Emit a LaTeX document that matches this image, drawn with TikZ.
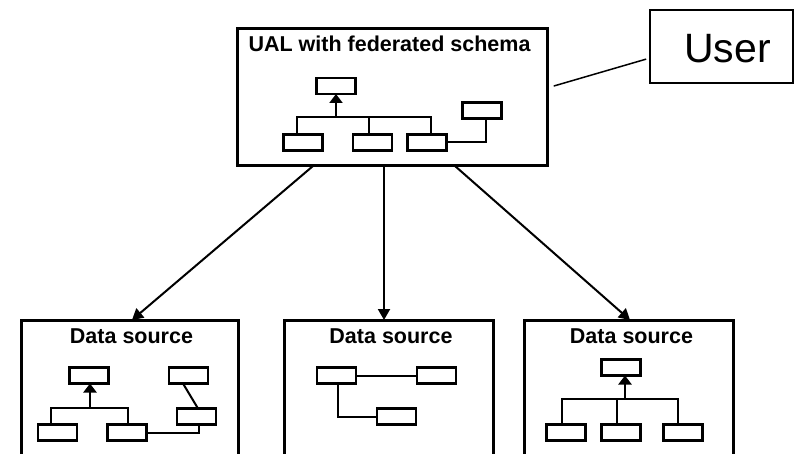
\documentclass[tikz,border=0pt]{standalone}
\usepackage{fontspec}
\setmainfont{Liberation Sans}
\usetikzlibrary{arrows.meta}
\begin{document}
\begin{tikzpicture}[x=1pt,y=1pt,
 bigbox/.style={draw, line width=3pt, inner sep=0pt, outer sep=0pt},
 sbox/.style={draw, line width=2.6pt, minimum width=39pt, minimum height=16pt, inner sep=0pt, outer sep=0pt},
 link/.style={line width=2pt},
 uparrow/.style={line width=2.6pt, -{Triangle[length=9pt,width=13pt]}},
 mainarrow/.style={line width=2pt, -{Triangle[length=11pt,width=12pt]}},
 title/.style={font=\bfseries\fontsize{21.5}{22}\selectfont, anchor=base, inner sep=0pt},
]
\clip (0,0) rectangle (794,-454);
% outer boxes
\node[bigbox, minimum width=310pt, minimum height=137pt] (top) at (392,-97.5) {};
\node[draw, line width=1.5pt, minimum width=143pt, minimum height=73pt, inner sep=0pt, outer sep=0pt] (user) at (721.5,-46.5) {};
\node[bigbox, minimum width=217pt, minimum height=150pt] (dsl) at (129.5,-395) {};
\node[bigbox, minimum width=209pt, minimum height=150pt] (dsm) at (388.5,-395) {};
\node[bigbox, minimum width=209pt, minimum height=150pt] (dsr) at (628.5,-395) {};
% texts
\node[title] (ttop) at (389.5,-52) {UAL with federated schema};
\node[font=\fontsize{41}{42}\selectfont, anchor=base, inner sep=0pt] (tuser) at (727.5,-63) {User};
\node[title] (tdsl) at (131.5,-343) {Data source};
\node[title] (tdsm) at (391,-343) {Data source};
\node[title] (tdsr) at (631.5,-343) {Data source};
% connectors between big boxes
\draw[line width=1.5pt, shorten <=7pt, shorten >=4pt] ([yshift=9.5pt]top.east) -- ([yshift=-11.5pt]user.west);
\draw[mainarrow] ([xshift=-79pt]top.south) -- ([xshift=2.5pt]dsl.north);
\draw[mainarrow] ([xshift=-8pt]top.south) -- ([xshift=-4.5pt]dsm.north);
\draw[mainarrow] ([xshift=63pt]top.south) -- ([xshift=1.5pt]dsr.north);
% top schema
\node[sbox] (T1) at (336,-86) {};
\node[sbox] (Ta) at (303,-142.5) {};
\node[sbox] (Tb) at (372.5,-142.5) {};
\node[sbox] (Tc) at (427,-142.5) {};
\node[sbox] (Td) at (482,-110.5) {};
\coordinate (tbus) at (336,-117);
\draw[link] ([xshift=-6pt]Ta.north) |- ([xshift=4pt]Tc.north |- tbus) -- ([xshift=4pt]Tc.north);
\draw[link] ([xshift=-3.5pt]Tb.north) -- ([xshift=-3.5pt]Tb.north |- tbus);
\draw[uparrow] (tbus) -- (T1.south);
\draw[link] (Tc.east) -| ([xshift=4pt]Td.south);
% left schema
\node[sbox] (L1) at (89,-375.5) {};
\node[sbox] (L2) at (57.5,-432.5) {};
\node[sbox] (L3) at (127,-432.5) {};
\node[sbox] (L4) at (188.5,-375.5) {};
\node[sbox] (L5) at (196.5,-416.5) {};
\coordinate (lbus) at (90,-408);
\draw[link] ([xshift=-6.5pt]L2.north) |- ([xshift=1pt]L3.north |- lbus) -- ([xshift=1pt]L3.north);
\draw[uparrow] (lbus) -- ([xshift=1pt]L1.south);
\draw[link] ([xshift=-5.5pt]L4.south) -- ([xshift=1.5pt]L5.north);
\draw[link] (L3.east) -| ([xshift=2.5pt]L5.south);
% middle schema
\node[sbox] (M1) at (336.5,-375.5) {};
\node[sbox] (M2) at (436.5,-375.5) {};
\node[sbox] (M3) at (396.5,-416.5) {};
\draw[link] (M1.east) -- (M2.west);
\draw[link] ([xshift=1.5pt]M1.south) |- (M3.west);
% right schema
\node[sbox] (R1) at (621,-367.5) {};
\node[sbox] (R2) at (566,-432.5) {};
\node[sbox] (R3) at (621,-432.5) {};
\node[sbox] (R4) at (683,-432.5) {};
\coordinate (rbus) at (625,-399);
\draw[link] ([xshift=-4pt]R2.north) |- ([xshift=-5pt]R4.north |- rbus) -- ([xshift=-5pt]R4.north);
\draw[link] ([xshift=-4pt]R3.north) -- ([xshift=-4pt]R3.north |- rbus);
\draw[uparrow] (rbus) -- ([xshift=4pt]R1.south);
\end{tikzpicture}
\end{document}
